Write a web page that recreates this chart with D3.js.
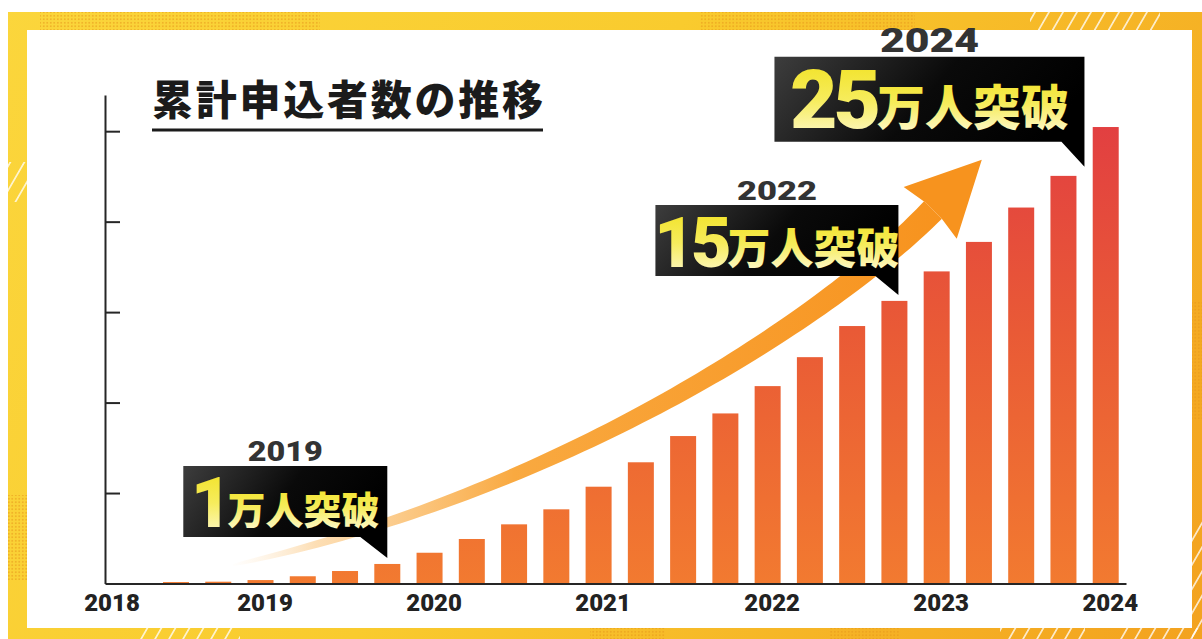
<!DOCTYPE html>
<html>
<head>
<meta charset="utf-8">
<script src="https://cdn.jsdelivr.net/npm/d3@7"></script>
<style>
  html, body { margin: 0; padding: 0; background: #fff; overflow: hidden; }
  svg { display: block; }
  .num { font-family: Roboto, "DejaVu Sans", sans-serif; font-weight: 900; }
  .jp { font-family: "Noto Sans CJK JP", sans-serif; font-weight: 900; }
</style>
</head>
<body>
<div id="wrapper"></div>
<script>
// cumulative applications, quarterly (unit: 万人)
const periods = ["2018-07", "2018-10", "2019-01", "2019-04", "2019-07", "2019-10",
  "2020-01", "2020-04", "2020-07", "2020-10", "2021-01", "2021-04", "2021-07", "2021-10",
  "2022-01", "2022-04", "2022-07", "2022-10", "2023-01", "2023-04", "2023-07", "2023-10", "2024-01"];
const signups = [0.08, 0.10, 0.19, 0.40, 0.69, 1.08, 1.70, 2.46, 3.27, 4.10, 5.35, 6.70,
  8.15, 9.40, 10.91, 12.51, 14.23, 15.62, 17.25, 18.88, 20.78, 22.53, 25.23];
const yearTicks = [2018, 2019, 2020, 2021, 2022, 2023, 2024];
const yTicks = [5, 10, 15, 20, 25];
const chartTitle = "累計申込者数の推移";
// milestone callouts
const milestoneYears = ["2019", "2022", "2024"];
const milestoneNums = ["1", "15", "25"];
const milestoneUnit = "万人突破";
const milestoneBars = ["2019-10", "2022-10", "2023-10"];

const drawChart = async () => {
  await document.fonts.ready;

  const dimensions = {
    width: 1202,
    height: 639,
    axisLeft: 105,
    axisRight: 1126,
    axisTop: 95,
    baseline: 583.5,
  };

  // period "YYYY-MM" -> decimal year
  const periodAccessor = (p) => {
    const [y, m] = p.split("-").map(Number);
    return y + (m - 1) / 12;
  };

  const svg = d3.select("#wrapper")
    .append("svg")
      .attr("width", dimensions.width)
      .attr("height", dimensions.height);

  const defs = svg.append("defs");

  // frame gradient
  const frameGrad = defs.append("linearGradient")
    .attr("id", "frameGrad")
    .attr("gradientUnits", "userSpaceOnUse")
    .attr("x1", 0).attr("y1", 0).attr("x2", 1202).attr("y2", 639);
  frameGrad.append("stop").attr("offset", 0).attr("stop-color", "#fbd63c");
  frameGrad.append("stop").attr("offset", 0.45).attr("stop-color", "#f9cb2e");
  frameGrad.append("stop").attr("offset", 1).attr("stop-color", "#f3a21f");

  // halftone dots + white dashes for the frame
  const dots = defs.append("pattern")
    .attr("id", "dots").attr("patternUnits", "userSpaceOnUse")
    .attr("width", 3.5).attr("height", 3.5);
  dots.append("circle").attr("cx", 1.75).attr("cy", 1.75).attr("r", 0.9)
    .attr("fill", "#e7961a").attr("opacity", 0.7);

  const dash = defs.append("pattern")
    .attr("id", "dash").attr("patternUnits", "userSpaceOnUse")
    .attr("width", 14).attr("height", 18)
    .attr("patternTransform", "skewX(-30)");
  dash.append("rect").attr("x", 5).attr("y", 0).attr("width", 2).attr("height", 18)
    .attr("fill", "#fff").attr("opacity", 0.75);

  // bar gradient (whole plot height)
  const barGrad = defs.append("linearGradient")
    .attr("id", "barGrad")
    .attr("gradientUnits", "userSpaceOnUse")
    .attr("x1", 0).attr("y1", dimensions.baseline).attr("x2", 0).attr("y2", 125);
  barGrad.append("stop").attr("offset", 0).attr("stop-color", "#f27a30");
  barGrad.append("stop").attr("offset", 0.55).attr("stop-color", "#e95a36");
  barGrad.append("stop").attr("offset", 1).attr("stop-color", "#e23f41");

  // callout box + text gradients
  const boxGrad = defs.append("linearGradient")
    .attr("id", "boxGrad").attr("x1", 0).attr("y1", 0).attr("x2", 1).attr("y2", 0.3);
  boxGrad.append("stop").attr("offset", 0).attr("stop-color", "#3d3d3d");
  boxGrad.append("stop").attr("offset", 0.55).attr("stop-color", "#0a0a0a");
  boxGrad.append("stop").attr("offset", 1).attr("stop-color", "#000");

  const gold = defs.append("linearGradient")
    .attr("id", "gold").attr("x1", 0).attr("y1", 0).attr("x2", 0).attr("y2", 1);
  gold.append("stop").attr("offset", 0).attr("stop-color", "#f1e01a");
  gold.append("stop").attr("offset", 0.5).attr("stop-color", "#f6ec5c");
  gold.append("stop").attr("offset", 1).attr("stop-color", "#fffbe2");

  const arrowGrad = defs.append("linearGradient")
    .attr("id", "arrowGrad")
    .attr("gradientUnits", "userSpaceOnUse")
    .attr("x1", 230).attr("y1", 0).attr("x2", 940).attr("y2", 0);
  arrowGrad.append("stop").attr("offset", 0).attr("stop-color", "#fde6c6").attr("stop-opacity", 0);
  arrowGrad.append("stop").attr("offset", 0.12).attr("stop-color", "#fcd6a2").attr("stop-opacity", 0.8);
  arrowGrad.append("stop").attr("offset", 0.4).attr("stop-color", "#f9a940");
  arrowGrad.append("stop").attr("offset", 1).attr("stop-color", "#f7931e");

  // ---- background frame ----
  svg.append("rect").attr("width", dimensions.width).attr("height", dimensions.height).attr("fill", "#fff");
  svg.append("rect")
    .attr("x", 8).attr("y", 12).attr("width", 1194).attr("height", 627)
    .attr("fill", "url(#frameGrad)");

  const dotAreas = [[40, 12, 280, 18], [700, 12, 215, 18], [8, 495, 19, 85], [590, 628, 75, 11],
    [830, 628, 70, 11], [1192, 300, 10, 120]];
  svg.selectAll(".dotArea").data(dotAreas).join("rect")
    .attr("x", d => d[0]).attr("y", d => d[1]).attr("width", d => d[2]).attr("height", d => d[3])
    .attr("fill", "url(#dots)");

  const dashAreas = [[1030, 12, 130, 18], [140, 628, 100, 11], [1000, 628, 85, 11],
    [8, 162, 19, 40], [1192, 520, 10, 119], [1120, 628, 82, 11]];
  svg.selectAll(".dashArea").data(dashAreas).join("rect")
    .attr("x", d => d[0]).attr("y", d => d[1]).attr("width", d => d[2]).attr("height", d => d[3])
    .attr("fill", "url(#dash)");

  // white panel
  svg.append("rect")
    .attr("x", 27).attr("y", 30).attr("width", 1165).attr("height", 598)
    .attr("fill", "#fff");

  // ---- scales ----
  const xScale = d3.scaleLinear()
    .domain([2018.08, 2024.12])
    .range([dimensions.axisLeft, dimensions.axisRight]);

  const yScale = d3.scaleLinear()
    .domain([0, 27])
    .range([dimensions.baseline, dimensions.axisTop]);

  const barWidth = 26;

  // ---- title ----
  svg.append("text")
    .attr("class", "jp")
    .attr("x", 152).attr("y", 115)
    .attr("font-size", 41)
    .attr("textLength", 391)
    .attr("lengthAdjust", "spacing")
    .attr("fill", "#1b1b1b")
    .text(chartTitle);
  svg.append("line")
    .attr("x1", 152).attr("x2", 543).attr("y1", 130).attr("y2", 130)
    .attr("stroke", "#1b1b1b").attr("stroke-width", 3);

  // ---- bars ----
  const bars = svg.append("g");
  bars.selectAll("rect")
    .data(periods)
    .join("rect")
      .attr("x", p => xScale(periodAccessor(p)) - barWidth / 2)
      .attr("width", barWidth)
      .attr("y", (p, i) => yScale(signups[i]))
      .attr("height", (p, i) => dimensions.baseline - yScale(signups[i]))
      .attr("fill", "url(#barGrad)");

  // ---- axes ----
  const yAxisGenerator = d3.axisLeft(yScale)
    .tickValues(yTicks)
    .tickSizeInner(-15)
    .tickSizeOuter(0)
    .tickFormat("");
  const yAxis = svg.append("g")
    .attr("transform", `translate(${dimensions.axisLeft},0)`)
    .call(yAxisGenerator);
  yAxis.selectAll("path, line").attr("stroke", "#262626").attr("stroke-width", 2);

  const xAxisGenerator = d3.axisBottom(xScale)
    .tickValues(yearTicks)
    .tickSize(0)
    .tickPadding(10)
    .tickFormat(d3.format("d"));
  const xAxis = svg.append("g")
    .attr("transform", `translate(0,${dimensions.baseline})`)
    .call(xAxisGenerator);
  xAxis.select(".domain").attr("stroke", "#262626").attr("stroke-width", 2);
  xAxis.selectAll("text")
    .attr("class", "num")
    .attr("font-size", 24)
    .attr("fill", "#222")
    // first label is pushed right so it clears the y axis
    .attr("dx", d => d === yearTicks[0] ? 20 : 4);

  // ---- growth arrow ----
  const P0 = [233, 565], P1 = [560, 493], P2 = [828, 318], P3 = [933, 210];
  const bez = (t) => {
    const a = (1 - t) ** 3, b = 3 * (1 - t) ** 2 * t, c = 3 * (1 - t) * t * t, d = t ** 3;
    return [a * P0[0] + b * P1[0] + c * P2[0] + d * P3[0], a * P0[1] + b * P1[1] + c * P2[1] + d * P3[1]];
  };
  const bezD = (t) => {
    const a = 3 * (1 - t) ** 2, b = 6 * (1 - t) * t, c = 3 * t * t;
    return [a * (P1[0] - P0[0]) + b * (P2[0] - P1[0]) + c * (P3[0] - P2[0]),
            a * (P1[1] - P0[1]) + b * (P2[1] - P1[1]) + c * (P3[1] - P2[1])];
  };
  const steps = d3.range(0, 1.0001, 1 / 80);
  const upper = [], lower = [];
  steps.forEach(t => {
    const [x, y] = bez(t);
    const [dx, dy] = bezD(t);
    const len = Math.hypot(dx, dy);
    const nx = -dy / len, ny = dx / len;
    const w = (2 + 23 * Math.pow(t, 0.6)) / 2;
    upper.push([x + nx * w, y + ny * w]);
    lower.push([x - nx * w, y - ny * w]);
  });
  const arrow = svg.append("g");
  arrow.append("path")
    .attr("d", d3.line()(upper.concat(lower.reverse())) + "Z")
    .attr("fill", "url(#arrowGrad)");

  const [edx, edy] = bezD(1);
  const elen = Math.hypot(edx, edy);
  const ux = edx / elen, uy = edy / elen, px = -uy, py = ux;
  const head = [
    [P3[0] + ux * 70, P3[1] + uy * 70],
    [P3[0] + px * 37 - ux * 4, P3[1] + py * 37 - uy * 4],
    [P3[0] + px * 11.5, P3[1] + py * 11.5],
    [P3[0] - px * 11.5, P3[1] - py * 11.5],
    [P3[0] - px * 37 - ux * 4, P3[1] - py * 37 - uy * 4],
  ];
  arrow.append("path")
    .attr("d", d3.line()(head) + "Z")
    .attr("fill", "#f7931e");

  // ---- milestone callouts ----
  const calloutLayout = [
    { dx: 0, gap: 6, w: 204, h: 71, tailW: 27, tailH: 21, num: 70, unit: 38, yearSize: 27, yearW: 75, pad: 10 },
    { dx: 4, gap: 6, w: 243, h: 71, tailW: 23, tailH: 19, num: 70, unit: 43, yearSize: 25, yearW: 80, pad: 9 },
    { dx: 21, gap: 9, w: 310, h: 85, tailW: 23, tailH: 25, num: 82, unit: 48, yearSize: 33, yearW: 99, pad: 14 },
  ];

  milestoneBars.forEach((p, i) => {
    const L = calloutLayout[i];
    const idx = periods.indexOf(p);
    const tipX = xScale(periodAccessor(p)) + L.dx;
    const tipY = yScale(signups[idx]) - L.gap;
    const right = tipX, bottom = tipY - L.tailH;
    const left = right - L.w, top = bottom - L.h;
    const cx = (left + right) / 2;

    const g = svg.append("g");
    g.append("path")
      .attr("d", `M${left},${top}H${right}V${tipY}L${right - L.tailW},${bottom}H${left}Z`)
      .attr("fill", "url(#boxGrad)");

    g.append("text")
      .attr("class", "num")
      .attr("x", cx).attr("y", top - 5)
      .attr("text-anchor", "middle")
      .attr("font-size", L.yearSize)
      .attr("textLength", L.yearW)
      .attr("lengthAdjust", "spacingAndGlyphs")
      .attr("fill", "#333")
      .text(milestoneYears[i]);

    const numText = g.append("text")
      .attr("class", "num")
      .attr("y", bottom - L.pad)
      .attr("font-size", L.num)
      .attr("letter-spacing", -4)
      .attr("fill", "url(#gold)")
      .text(milestoneNums[i]);
    const unitText = g.append("text")
      .attr("class", "jp")
      .attr("y", bottom - L.pad - 3)
      .attr("font-size", L.unit)
      .attr("fill", "url(#gold)")
      .text(milestoneUnit);

    const nw = numText.node().getComputedTextLength();
    const uw = unitText.node().getComputedTextLength();
    const startX = cx - (nw + uw) / 2;
    numText.attr("x", startX);
    unitText.attr("x", startX + nw);
  });
};

drawChart();
</script>
</body>
</html>
